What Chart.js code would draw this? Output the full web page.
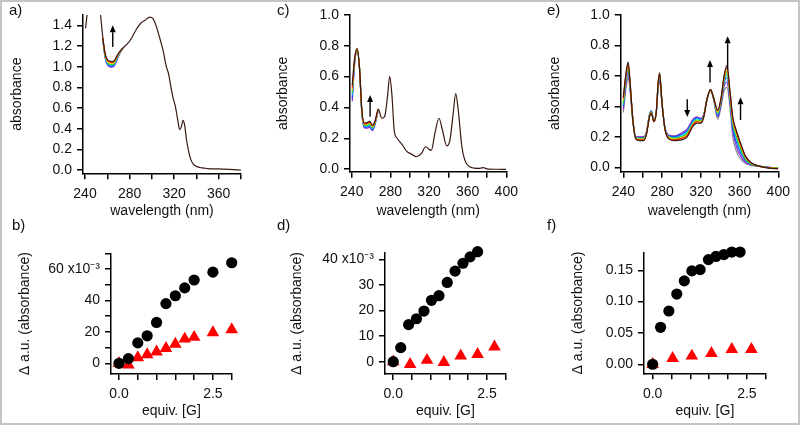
<!DOCTYPE html>
<html>
<head>
<meta charset="utf-8">
<script src="https://cdn.jsdelivr.net/npm/chart.js@4.4.0/dist/chart.umd.min.js"></script>
<style>
  html, body { margin: 0; padding: 0; background: #fff; }
  #fig { position: relative; width: 800px; height: 425px; overflow: hidden; font-family: 'Liberation Sans', Arial, sans-serif; }
  #frame { position: absolute; left: 0; top: 0; width: 800px; height: 425px; box-sizing: border-box; border: 2px solid #c4c4c4; pointer-events: none; }
  canvas { position: absolute; }
  .tag { position: absolute; font-size: 15px; line-height: 16px; color: #111; }
</style>
</head>
<body>
<div id="fig">
  <canvas id="chartA" width="265" height="225" style="left:0;top:0"></canvas>
  <canvas id="chartC" width="265" height="225" style="left:265px;top:0"></canvas>
  <canvas id="chartE" width="268" height="225" style="left:530px;top:0"></canvas>
  <canvas id="chartB" width="265" height="210" style="left:0;top:215px"></canvas>
  <canvas id="chartD" width="265" height="210" style="left:265px;top:215px"></canvas>
  <canvas id="chartF" width="268" height="210" style="left:530px;top:215px"></canvas>
  <div class="tag" style="left:9px;top:2px">a)</div>
  <div class="tag" style="left:12px;top:217px">b)</div>
  <div class="tag" style="left:277px;top:2px">c)</div>
  <div class="tag" style="left:277px;top:217px">d)</div>
  <div class="tag" style="left:547px;top:2px">e)</div>
  <div class="tag" style="left:547px;top:217px">f)</div>
  <div id="frame"></div>
</div>
<script>
// ---- panel a: spectra ----
const aWl = [240.5, 242, 244, 248, 252, 254, 256, 258, 260, 262, 264, 266, 268, 270, 274, 278, 282, 286, 290, 294,
             298, 301, 304, 307, 310, 313, 315, 317, 319, 321, 323, 325, 326.5, 328, 329.5, 331, 333, 335, 337, 340,
             345, 350, 360, 370, 380];
const aFinal = [1.37, 1.52, 1.75, 1.95, 1.75, 1.50, 1.28, 1.13, 1.07, 1.055, 1.05, 1.055, 1.09, 1.13, 1.18, 1.22, 1.28, 1.36, 1.42, 1.45,
                1.48, 1.465, 1.39, 1.28, 1.16, 1.0, 0.93, 0.81, 0.70, 0.62, 0.50, 0.39, 0.42, 0.48, 0.43, 0.30, 0.18, 0.10, 0.06, 0.035,
                0.02, 0.014, 0.01, 0.006, 0.0];
const aSegWl = [256, 258, 260, 262, 264, 266, 268, 270, 274];
const aPurple = [1.26, 1.09, 1.02, 1.0, 0.995, 1.005, 1.045, 1.10, 1.18];
const aBlue = [1.265, 1.095, 1.03, 1.008, 1.003, 1.012, 1.052, 1.105, 1.18];
const aCyan = [1.27, 1.10, 1.038, 1.017, 1.012, 1.02, 1.06, 1.11, 1.18];
const aGreen = [1.272, 1.107, 1.045, 1.025, 1.02, 1.028, 1.066, 1.115, 1.18];
const aYellow = [1.275, 1.115, 1.053, 1.035, 1.03, 1.036, 1.074, 1.12, 1.18];
const aRed = [1.278, 1.122, 1.062, 1.045, 1.04, 1.046, 1.082, 1.125, 1.18];
const aArrowX = [264.9], aArrowFrom = [1.19], aArrowTo = [1.40];

// ---- panel c: spectra ----
const cWl = [240.5, 243, 245.5, 248, 250.5, 253, 255.5, 258.5, 261.5, 264, 267.5, 271, 274, 277, 279.3, 281.5, 284, 287, 292, 297,
             302, 307, 312, 316.5, 320, 322.5, 326, 330.3, 334, 338.3, 341.7, 345, 347.6, 350.3, 354, 357, 362, 371, 376, 381,
             390, 400];
const cFinal = [0.545, 0.72, 0.78, 0.66, 0.38, 0.30, 0.30, 0.31, 0.285, 0.31, 0.39, 0.33, 0.34, 0.47, 0.60, 0.49, 0.25, 0.20, 0.16, 0.115,
                0.097, 0.08, 0.10, 0.145, 0.128, 0.123, 0.23, 0.33, 0.25, 0.15, 0.19, 0.36, 0.49, 0.38, 0.145, 0.06, 0.015, 0.004, 0.009, 0.0,
                -0.001, -0.002];
const cSegWl = [240.5, 243, 245.5, 248, 250.5, 253, 255.5, 258.5, 261.5, 264, 267.5];
const cPurple = [0.44, 0.68, 0.775, 0.655, 0.36, 0.27, 0.265, 0.27, 0.25, 0.285, 0.385];
const cBlue = [0.46, 0.69, 0.777, 0.657, 0.365, 0.275, 0.272, 0.278, 0.256, 0.29, 0.386];
const cCyan = [0.48, 0.695, 0.778, 0.658, 0.368, 0.28, 0.278, 0.285, 0.262, 0.294, 0.387];
const cGreen = [0.495, 0.70, 0.779, 0.658, 0.37, 0.284, 0.284, 0.292, 0.268, 0.298, 0.388];
const cYellow = [0.51, 0.705, 0.78, 0.659, 0.373, 0.289, 0.29, 0.298, 0.274, 0.302, 0.389];
const cRed = [0.525, 0.71, 0.78, 0.66, 0.376, 0.294, 0.295, 0.304, 0.28, 0.306, 0.39];
const cArrowX = [259], cArrowFrom = [0.34], cArrowTo = [0.48];

// ---- panel e: spectra ----
const eWl = [240, 243, 245, 247, 250, 253, 257, 261, 264, 267, 269, 271.5, 274, 276, 277.5, 280, 283, 287, 293, 300,
             306, 312, 316, 320, 323, 326.5, 330, 333, 337.5, 341, 344, 347, 350, 353, 357, 361, 366, 372, 380, 390, 400];
const eGray = [0.36, 0.53, 0.59, 0.50, 0.29, 0.20, 0.20, 0.20, 0.235, 0.345, 0.37, 0.31, 0.36, 0.52, 0.56, 0.41, 0.26, 0.21, 0.205, 0.225,
               0.25, 0.315, 0.33, 0.32, 0.345, 0.45, 0.50, 0.45, 0.315, 0.40, 0.50, 0.525, 0.40, 0.20, 0.10, 0.055, 0.025, 0.012, 0.006, 0.0, -0.004];
const ePurple = [0.38, 0.56, 0.62, 0.52, 0.30, 0.20, 0.20, 0.20, 0.235, 0.345, 0.37, 0.31, 0.36, 0.53, 0.58, 0.415, 0.26, 0.21, 0.205, 0.225,
                 0.25, 0.315, 0.33, 0.32, 0.345, 0.45, 0.51, 0.46, 0.33, 0.42, 0.53, 0.56, 0.43, 0.24, 0.13, 0.075, 0.035, 0.015, 0.007, 0.0, -0.003];
const eBlue = [0.40, 0.58, 0.64, 0.53, 0.30, 0.195, 0.195, 0.195, 0.23, 0.34, 0.365, 0.305, 0.36, 0.54, 0.59, 0.415, 0.255, 0.205, 0.20, 0.215,
               0.24, 0.305, 0.325, 0.315, 0.34, 0.45, 0.51, 0.46, 0.34, 0.43, 0.55, 0.59, 0.45, 0.26, 0.16, 0.095, 0.045, 0.018, 0.008, 0.0, -0.003];
const eCyan = [0.41, 0.59, 0.65, 0.54, 0.30, 0.195, 0.19, 0.19, 0.23, 0.34, 0.365, 0.305, 0.36, 0.545, 0.60, 0.42, 0.255, 0.20, 0.195, 0.21,
               0.235, 0.30, 0.32, 0.31, 0.34, 0.45, 0.51, 0.46, 0.35, 0.44, 0.56, 0.61, 0.46, 0.28, 0.18, 0.11, 0.05, 0.02, 0.008, 0.0, -0.003];
const eGreen = [0.42, 0.60, 0.66, 0.54, 0.30, 0.19, 0.19, 0.19, 0.225, 0.335, 0.36, 0.30, 0.36, 0.55, 0.60, 0.42, 0.25, 0.20, 0.19, 0.20,
                0.225, 0.29, 0.31, 0.305, 0.335, 0.45, 0.51, 0.46, 0.355, 0.445, 0.57, 0.63, 0.47, 0.29, 0.20, 0.125, 0.055, 0.022, 0.008, -0.002, -0.005];
const eYellow = [0.44, 0.61, 0.67, 0.55, 0.30, 0.19, 0.185, 0.185, 0.225, 0.335, 0.36, 0.30, 0.36, 0.55, 0.61, 0.42, 0.25, 0.195, 0.185, 0.195,
                 0.215, 0.285, 0.305, 0.30, 0.335, 0.45, 0.51, 0.46, 0.36, 0.45, 0.58, 0.645, 0.48, 0.305, 0.215, 0.14, 0.065, 0.025, 0.008, -0.003, -0.007];
const eRed = [0.45, 0.62, 0.68, 0.55, 0.30, 0.185, 0.18, 0.18, 0.22, 0.33, 0.355, 0.30, 0.36, 0.555, 0.61, 0.42, 0.25, 0.19, 0.18, 0.19,
              0.21, 0.28, 0.30, 0.295, 0.33, 0.45, 0.51, 0.46, 0.37, 0.455, 0.59, 0.66, 0.495, 0.32, 0.225, 0.15, 0.07, 0.028, 0.008, -0.004, -0.009];
const eFinal = [0.46, 0.63, 0.69, 0.56, 0.30, 0.185, 0.175, 0.175, 0.22, 0.33, 0.355, 0.30, 0.36, 0.56, 0.62, 0.42, 0.25, 0.185, 0.175, 0.18,
                0.20, 0.27, 0.29, 0.29, 0.33, 0.45, 0.51, 0.46, 0.375, 0.46, 0.60, 0.67, 0.51, 0.33, 0.235, 0.16, 0.075, 0.03, 0.008, -0.005, -0.01];
const eArrowX = [306, 329.5, 347.7, 361], eArrowFrom = [0.446, 0.556, 0.64, 0.31], eArrowTo = [0.33, 0.705, 0.86, 0.46];

// ---- titration panels (b, d in units of 1e-3) ----
const bEquiv = [0, 0.25, 0.5, 0.75, 1.0, 1.25, 1.5, 1.75, 2.0, 2.5, 3.0];
const bCircles = [0, 3, 13, 17.5, 26, 38, 43, 48, 53, 58, 64];
const bTriangles = [0, -1, 3.7, 5.5, 7.3, 9.5, 12.3, 15.5, 16.6, 19.6, 21.5];

const dCircEquiv = [0, 0.2, 0.41, 0.62, 0.82, 1.02, 1.22, 1.44, 1.65, 1.86, 2.05, 2.25];
const dCircles = [0, 5.5, 14.5, 16.8, 19.8, 24, 25.8, 31, 35.4, 38.5, 41, 43];
const dTriEquiv = [0, 0.45, 0.9, 1.35, 1.8, 2.25, 2.7];
const dTriangles = [0, -1, 0.6, -0.2, 2.3, 2.9, 5.8];

const fCircEquiv = [0, 0.21, 0.43, 0.64, 0.84, 1.04, 1.26, 1.48, 1.68, 1.89, 2.1, 2.32];
const fCircles = [0, 0.059, 0.085, 0.112, 0.133, 0.149, 0.151, 0.167, 0.172, 0.175, 0.179, 0.179];
const fTriEquiv = [0, 0.53, 1.04, 1.56, 2.1, 2.62];
const fTriangles = [0, 0.0096, 0.0133, 0.0176, 0.024, 0.024];

// ---- ticks ----
const wlTicks = [240, 260, 280, 300, 320, 340, 360, 380, 400];
const wlLabels = [240, 280, 320, 360, 400];
const absTicks = [0, 0.2, 0.4, 0.6, 0.8, 1.0, 1.2, 1.4];
const equivTicks = [0, 0.5, 1.0, 1.5, 2.0, 2.5, 3.0];
const equivLabels = [0, 2.5];
const bYTicks = [0, 10, 20, 30, 40, 50, 60, 70];
const bYLabels = [0, 20, 40, 60];
const dYTicks = [0, 10, 20, 30, 40];
const fYTicks = [0, 0.05, 0.10, 0.15];

const colors = {
  gray: '#8c8c8c', purple: '#8a2be2', blue: '#1e3cff', cyan: '#00c4f0',
  green: '#22cc22', yellow: '#dede00', red: '#ff2a00', dark: '#3a1812'
};

Chart.defaults.font.family = "'Liberation Sans', Arial, sans-serif";
Chart.defaults.font.size = 14;
Chart.defaults.color = '#111';

const xy = (xs, ys) => xs.map((x, i) => ({ x: x, y: ys[i] }));
const line = (xs, ys, color) => ({ data: xy(xs, ys), borderColor: color, borderWidth: 1.2, pointRadius: 0, fill: false });
const dots = (xs, ys, color, style, r) => ({
  data: xy(xs, ys), showLine: false, pointStyle: style, pointRadius: r,
  pointBackgroundColor: color, pointBorderColor: color, pointBorderWidth: 0, clip: false
});
const sup = ' x10\u207B\u00B3';

// arrows drawn through the scales
function arrows(xs, froms, tos) {
  return {
    id: 'arrows',
    afterDatasetsDraw(chart) {
      const { ctx, scales } = chart;
      ctx.save();
      ctx.strokeStyle = '#000';
      ctx.fillStyle = '#000';
      ctx.lineWidth = 1.4;
      xs.forEach((xv, i) => {
        const px = scales.x.getPixelForValue(xv);
        const y0 = scales.y.getPixelForValue(froms[i]);
        const y1 = scales.y.getPixelForValue(tos[i]);
        const dir = y1 < y0 ? 1 : -1;
        const head = 7;
        ctx.beginPath();
        ctx.moveTo(px, y0);
        ctx.lineTo(px, y1 + dir * head);
        ctx.stroke();
        ctx.beginPath();
        ctx.moveTo(px, y1);
        ctx.lineTo(px - 3, y1 + dir * head);
        ctx.lineTo(px + 3, y1 + dir * head);
        ctx.closePath();
        ctx.fill();
      });
      ctx.restore();
    }
  };
}

function axis(o) {
  return {
    type: 'linear', bounds: 'data', min: o.min, max: o.max,
    border: { display: true, color: '#000', width: 1.5 },
    grid: { drawOnChartArea: false, drawTicks: true, tickLength: 6, color: '#000', lineWidth: 1.5 },
    ticks: { autoSkip: false, maxRotation: 0, padding: o.tickPad, color: '#111', font: { size: 14 }, callback: o.label },
    afterBuildTicks: s => { s.ticks = o.ticks.map(v => ({ value: v })); },
    afterFit: o.fit,
    title: { display: true, text: o.title, color: '#111', font: { size: 14 }, padding: o.titlePad }
  };
}

function panel(id, o) {
  return new Chart(document.getElementById(id), {
    type: 'line',
    data: { datasets: o.datasets },
    options: {
      responsive: false,
      animation: false,
      layout: { padding: o.pad },
      elements: { line: { cubicInterpolationMode: 'monotone' } },
      plugins: { legend: { display: false }, tooltip: { enabled: false } },
      scales: {
        x: axis({ min: o.xMin, max: o.xMax, ticks: o.xTicks, label: o.xLabel, tickPad: 6,
                  fit: s => { s.height = o.xHeight; }, title: o.xTitle, titlePad: { top: 0, bottom: 5.6 } }),
        y: axis({ min: o.yMin, max: o.yMax, ticks: o.yTicks, label: o.yLabel, tickPad: 5,
                  fit: s => { s.width = o.yWidth; }, title: o.yTitle, titlePad: { top: o.yTitlePad, bottom: 0 } })
      }
    },
    plugins: o.arrows ? [o.arrows] : []
  });
}

const wlLabel = v => wlLabels.includes(v) ? String(v) : '';
const equivLabel = v => equivLabels.includes(v) ? v.toFixed(1) : '';

panel('chartA', {
  datasets: [
    line(aWl, aFinal, colors.dark),
    line(aSegWl, aRed, colors.red),
    line(aSegWl, aYellow, colors.yellow),
    line(aSegWl, aGreen, colors.green),
    line(aSegWl, aCyan, colors.cyan),
    line(aSegWl, aBlue, colors.blue),
    line(aSegWl, aPurple, colors.purple)
  ],
  xMin: 238.2, xMax: 380, yMin: -0.032, yMax: 1.5,
  xTicks: wlTicks.filter(v => v <= 380), yTicks: absTicks,
  xLabel: wlLabel, yLabel: v => v.toFixed(1),
  xTitle: 'wavelength (nm)', yTitle: 'absorbance', yTitlePad: 8.3,
  pad: { left: 0, top: 15, right: 24, bottom: 0 }, yWidth: 83, xHeight: 51.7,
  arrows: arrows(aArrowX, aArrowFrom, aArrowTo)
});

panel('chartC', {
  datasets: [
    line(cWl, cFinal, colors.dark),
    line(cSegWl, cRed, colors.red),
    line(cSegWl, cYellow, colors.yellow),
    line(cSegWl, cGreen, colors.green),
    line(cSegWl, cCyan, colors.cyan),
    line(cSegWl, cBlue, colors.blue),
    line(cSegWl, cPurple, colors.purple)
  ],
  xMin: 238.2, xMax: 400, yMin: -0.017, yMax: 1.0,
  xTicks: wlTicks, yTicks: absTicks.filter(v => v <= 1.0),
  xLabel: wlLabel, yLabel: v => v.toFixed(1),
  xTitle: 'wavelength (nm)', yTitle: 'absorbance', yTitlePad: 9.6,
  pad: { left: 0, top: 15, right: 23.7, bottom: 0 }, yWidth: 85, xHeight: 53.3,
  arrows: arrows(cArrowX, cArrowFrom, cArrowTo)
});

panel('chartE', {
  datasets: [
    line(eWl, eFinal, colors.dark),
    line(eWl, eRed, colors.red),
    line(eWl, eYellow, colors.yellow),
    line(eWl, eGreen, colors.green),
    line(eWl, eCyan, colors.cyan),
    line(eWl, eBlue, colors.blue),
    line(eWl, ePurple, colors.purple),
    line(eWl, eGray, colors.gray)
  ],
  xMin: 237.3, xMax: 400, yMin: -0.029, yMax: 1.0,
  xTicks: wlTicks, yTicks: absTicks.filter(v => v <= 1.0),
  xLabel: wlLabel, yLabel: v => v.toFixed(1),
  xTitle: 'wavelength (nm)', yTitle: 'absorbance', yTitlePad: 16.6,
  pad: { left: 0, top: 15, right: 19.7, bottom: 0 }, yWidth: 90.7, xHeight: 53.3,
  arrows: arrows(eArrowX, eArrowFrom, eArrowTo)
});

panel('chartB', {
  datasets: [
    dots(bEquiv, bCircles, '#000', 'circle', 5.6),
    dots(bEquiv, bTriangles, '#ff0000', 'triangle', 7.3)
  ],
  xMin: -0.213, xMax: 3.0, yMin: -6.8, yMax: 70,
  xTicks: equivTicks, yTicks: bYTicks,
  xLabel: equivLabel, yLabel: v => bYLabels.includes(v) ? (v === 60 ? v + sup : String(v)) : '',
  xTitle: 'equiv. [G]', yTitle: '\u0394 a.u. (absorbance)', yTitlePad: 16.6,
  pad: { left: 0, top: 38.3, right: 33.3, bottom: 0 }, yWidth: 111, xHeight: 51
});

panel('chartD', {
  datasets: [
    dots(dCircEquiv, dCircles, '#000', 'circle', 5.6),
    dots(dTriEquiv, dTriangles, '#ff0000', 'triangle', 7.3)
  ],
  xMin: -0.22, xMax: 3.0, yMin: -4.8, yMax: 42.5,
  xTicks: equivTicks, yTicks: dYTicks,
  xLabel: equivLabel, yLabel: v => v === 40 ? v + sup : String(v),
  xTitle: 'equiv. [G]', yTitle: '\u0394 a.u. (absorbance)', yTitlePad: 23.6,
  pad: { left: 0, top: 38, right: 24.3, bottom: 0 }, yWidth: 120, xHeight: 51
});

panel('chartF', {
  datasets: [
    dots(fCircEquiv, fCircles, '#000', 'circle', 5.6),
    dots(fTriEquiv, fTriangles, '#ff0000', 'triangle', 7.3)
  ],
  xMin: -0.23, xMax: 3.0, yMin: -0.0144, yMax: 0.178,
  xTicks: equivTicks, yTicks: fYTicks,
  xLabel: equivLabel, yLabel: v => v.toFixed(2),
  xTitle: 'equiv. [G]', yTitle: '\u0394 a.u. (absorbance)', yTitlePad: 39.6,
  pad: { left: 0, top: 37.7, right: 32.3, bottom: 0 }, yWidth: 114, xHeight: 51.7
});
</script>
</body>
</html>
